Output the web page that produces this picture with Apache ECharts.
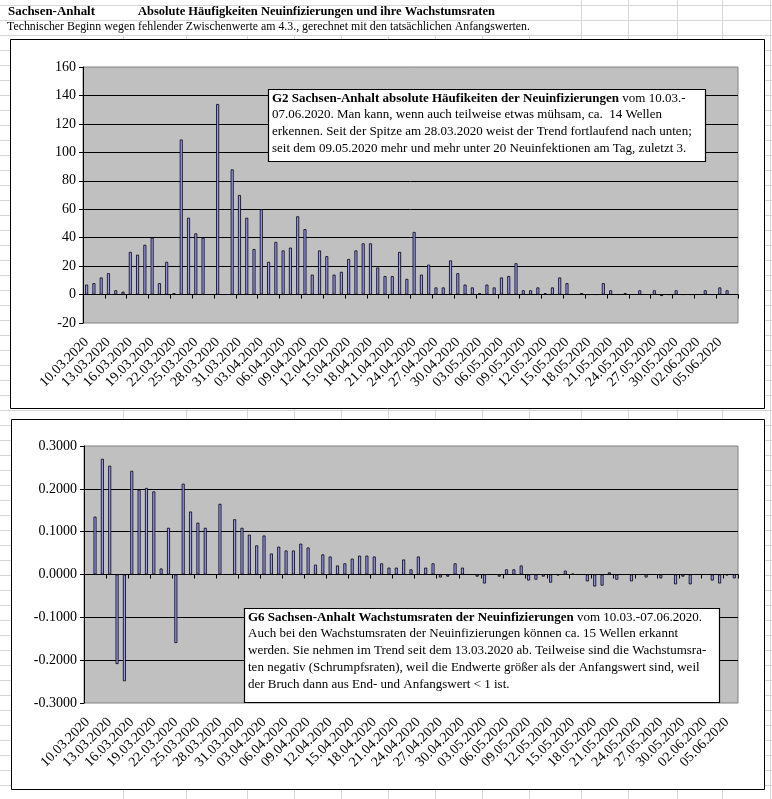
<!DOCTYPE html>
<html><head><meta charset="utf-8">
<script src="https://cdn.jsdelivr.net/npm/echarts@6/dist/echarts.min.js"></script>
<style>html,body{margin:0;padding:0;background:#fff;}#c{width:772px;height:799px;}</style>
</head><body><div id="c"></div>
<script>
// ---------- data ----------
const datesTop = [
 '10.03.2020','11.03.2020','12.03.2020','13.03.2020','14.03.2020','15.03.2020','16.03.2020','17.03.2020','18.03.2020','19.03.2020',
 '20.03.2020','21.03.2020','22.03.2020','23.03.2020','24.03.2020','25.03.2020','26.03.2020','27.03.2020','28.03.2020','29.03.2020',
 '30.03.2020','31.03.2020','01.04.2020','02.04.2020','03.04.2020','04.04.2020','05.04.2020','06.04.2020','07.04.2020','08.04.2020',
 '09.04.2020','10.04.2020','11.04.2020','12.04.2020','13.04.2020','14.04.2020','15.04.2020','16.04.2020','17.04.2020','18.04.2020',
 '19.04.2020','20.04.2020','21.04.2020','22.04.2020','23.04.2020','24.04.2020','25.04.2020','26.04.2020','27.04.2020','28.04.2020',
 '29.04.2020','30.04.2020','01.05.2020','02.05.2020','03.05.2020','04.05.2020','05.05.2020','06.05.2020','07.05.2020','08.05.2020',
 '09.05.2020','10.05.2020','11.05.2020','12.05.2020','13.05.2020','14.05.2020','15.05.2020','16.05.2020','17.05.2020','18.05.2020',
 '19.05.2020','20.05.2020','21.05.2020','22.05.2020','23.05.2020','24.05.2020','25.05.2020','26.05.2020','27.05.2020','28.05.2020',
 '29.05.2020','30.05.2020','31.05.2020','01.06.2020','02.06.2020','03.06.2020','04.06.2020','05.06.2020','06.06.2020','07.06.2020'
];
const datesBottom = datesTop.slice(0, 89);

// absolute daily new infections (G2)
const newInfections = [
 7,8,12,15,3,2,30,28,35,40,
 8,23,1,109,54,43,40,null,134,null,
 88,70,54,32,60,23,37,31,33,55,
 46,14,31,27,14,16,25,31,36,36,
 19,13,13,30,11,44,14,21,5,5,
 24,15,7,5,1,7,5,12,13,22,
 3,3,5,1,5,12,8,null,1,0,
 0,8,3,null,1,null,3,null,3,-1,
 0,3,0,0,null,3,0,5,3,null
];

// growth rates of new infections (G6)
const growthRates = [
 null,0.135,0.270,0.254,-0.209,-0.249,0.242,0.198,0.202,0.194,
 0.014,0.109,-0.160,0.212,0.147,0.121,0.109,null,0.165,null,
 0.129,0.109,0.093,0.068,0.091,0.049,0.065,0.056,0.056,0.072,
 0.063,0.023,0.047,0.042,0.021,0.026,0.037,0.044,0.044,0.042,
 0.026,0.016,0.016,0.035,0.012,0.042,0.016,0.026,-0.007,-0.005,
 0.026,0.016,null,-0.005,-0.021,null,-0.005,0.012,0.012,0.021,
 -0.014,-0.012,-0.005,-0.019,-0.002,0.009,0.002,null,-0.016,-0.028,
 -0.026,0.005,-0.012,null,-0.016,null,-0.007,null,-0.009,null,
 -0.023,-0.005,-0.023,null,null,-0.014,-0.021,-0.002,-0.009
];

const topAxis = { min: -20, max: 160, interval: 20 };
const bottomAxis = { min: -0.3, max: 0.3, interval: 0.1, decimals: 4 };

const headerLeft = 'Sachsen-Anhalt';
const headerTitle = 'Absolute Häufigkeiten Neuinfizierungen und ihre Wachstumsraten';
const headerNote = 'Technischer Beginn wegen fehlender Zwischenwerte am 4.3., gerechnet mit den tatsächlichen Anfangswerten.';

const noteTop = [
 '{b|G2 Sachsen-Anhalt absolute Häufikeiten der Neuinfizierungen} vom 10.03.-',
 '07.06.2020. Man kann, wenn auch teilweise etwas mühsam, ca.  14 Wellen',
 'erkennen. Seit der Spitze am 28.03.2020 weist der Trend fortlaufend nach unten;',
 'seit dem 09.05.2020 mehr und mehr unter 20 Neuinfektionen am Tag, zuletzt 3.'
];
const noteBottom = [
 '{b|G6 Sachsen-Anhalt Wachstumsraten der Neuinfizierungen} vom 10.03.-07.06.2020.',
 'Auch bei den Wachstumsraten der Neuinfizierungen können ca. 15 Wellen erkannt',
 'werden. Sie nehmen im Trend seit dem 13.03.2020 ab. Teilweise sind die Wachstumsra-',
 'ten negativ (Schrumpfsraten), weil die Endwerte größer als der Anfangswert sind, weil',
 'der Bruch dann aus End- und Anfangswert < 1 ist.'
];

// ---------- layout ----------
const FONT = '"Liberation Serif", "Times New Roman", serif';
const BAR = '#9999ff';

function fitScale(text, font, target) {
  const ctx = document.createElement('canvas').getContext('2d');
  ctx.font = font;
  return target / ctx.measureText(text).width;
}

const graphics = [];
// spreadsheet grid lines (background)
for (let y = 5.5; y < 799; y += 15) {
  graphics.push({ type: 'line', z: -20, silent: true, shape: { x1: 0, y1: y, x2: 772, y2: y }, style: { stroke: '#d6d6d6', lineWidth: 1 } });
}
const cols = [123, 186, 247, 294, 341, 388, 435, 482, 529, 581, 628, 677, 722, 770];
cols.forEach(x => {
  graphics.push({ type: 'line', z: -20, silent: true, shape: { x1: x + 0.5, y1: x > 535 ? 0 : 36, x2: x + 0.5, y2: 799 }, style: { stroke: '#d6d6d6', lineWidth: 1 } });
});
// chart frames
graphics.push({ type: 'rect', z: -10, silent: true, shape: { x: 10.5, y: 39.5, width: 754, height: 369 }, style: { fill: '#fff', stroke: '#000', lineWidth: 1 } });
graphics.push({ type: 'rect', z: -10, silent: true, shape: { x: 11.5, y: 419.5, width: 753, height: 370 }, style: { fill: '#fff', stroke: '#000', lineWidth: 1 } });

// sheet header texts
const fB = 'bold 13px "Liberation Serif"';
const fN = '12.5px "Liberation Serif"';
graphics.push({ type: 'text', z: 50, x: 8, y: 12, scaleX: fitScale(headerLeft, fB, 87), style: { text: headerLeft, font: fB, fill: '#000', verticalAlign: 'middle' } });
graphics.push({ type: 'text', z: 50, x: 138, y: 12, scaleX: fitScale(headerTitle, fB, 357), style: { text: headerTitle, font: fB, fill: '#000', verticalAlign: 'middle' } });
graphics.push({ type: 'text', z: 50, x: 7, y: 27, scaleX: fitScale(headerNote, fN, 523), style: { text: headerNote, font: fN, fill: '#000', verticalAlign: 'middle' } });

// annotation boxes
function noteBox(x, y, w, h, lines) {
  graphics.push({ type: 'rect', z: 100, silent: true, shape: { x: x + 0.5, y: y + 0.5, width: w, height: h }, style: { fill: '#fff', stroke: '#000', lineWidth: 1.2 } });
  graphics.push({ type: 'text', z: 101, x: x + 4, y: y + 1, style: {
    text: lines.join('\n'), fontFamily: FONT, fontSize: 13, fill: '#000', lineHeight: 16.7, verticalAlign: 'top',
    rich: { b: { fontFamily: FONT, fontSize: 13, fontWeight: 'bold', fill: '#000', lineHeight: 16.7 } }
  } });
}
noteBox(268, 89, 437, 72, noteTop);
noteBox(244, 608, 475, 94, noteBottom);

function lineAxis(grid, data) {
  return {
    gridIndex: grid, type: 'category', data: data, position: 'top', boundaryGap: true,
    axisLine: { show: true, onZero: true, lineStyle: { color: '#000', width: 1 } },
    axisTick: { show: true, interval: 2, inside: true, length: 4, lineStyle: { color: '#000' } },
    axisLabel: { show: false }, splitLine: { show: false }
  };
}
function labelAxis(grid, data) {
  return {
    gridIndex: grid, type: 'category', data: data, position: 'bottom', boundaryGap: true,
    axisLine: { show: false, onZero: false }, axisTick: { show: false },
    axisLabel: { interval: 2, rotate: 45, margin: 17, fontFamily: FONT, fontSize: 14, color: '#000' },
    splitLine: { show: false }
  };
}
function valAxis(grid, cfg, fmt) {
  return {
    gridIndex: grid, type: 'value', min: cfg.min, max: cfg.max, interval: cfg.interval,
    axisLine: { show: true, lineStyle: { color: '#000' } },
    axisTick: { show: true, length: 4, lineStyle: { color: '#000' } },
    axisLabel: { fontFamily: FONT, fontSize: 14, color: '#000', margin: 7, formatter: fmt },
    splitLine: { show: true, showMinLine: false, showMaxLine: false, lineStyle: { color: '#000', width: 1 } }
  };
}

const chart = echarts.init(document.getElementById('c'), null, { renderer: 'canvas' });
chart.setOption({
  animation: false,
  backgroundColor: '#fff',
  grid: [
    { left: 83, top: 67, width: 655, height: 256, show: true, backgroundColor: '#c0c0c0', borderColor: '#808080', borderWidth: 1, containLabel: false, outerBoundsMode: 'none' },
    { left: 84, top: 446, width: 654, height: 257, show: true, backgroundColor: '#c0c0c0', borderColor: '#808080', borderWidth: 1, containLabel: false, outerBoundsMode: 'none' }
  ],
  xAxis: [ lineAxis(0, datesTop), labelAxis(0, datesTop), lineAxis(1, datesBottom), labelAxis(1, datesBottom) ],
  yAxis: [
    valAxis(0, topAxis, v => String(v)),
    valAxis(1, bottomAxis, v => (Math.round(v * 10) / 10).toFixed(bottomAxis.decimals))
  ],
  graphic: { elements: graphics },
  series: [
    { type: 'bar', name: 'Neuinfizierungen', xAxisIndex: 0, yAxisIndex: 0, data: newInfections, barWidth: 3,
      itemStyle: { color: BAR, borderColor: '#000', borderWidth: 0.8 }, emphasis: { disabled: true } },
    { type: 'bar', name: 'Wachstumsraten', xAxisIndex: 2, yAxisIndex: 1, data: growthRates, barWidth: 3,
      itemStyle: { color: BAR, borderColor: '#000', borderWidth: 0.8 }, emphasis: { disabled: true } }
  ]
});
</script>
</body></html>
